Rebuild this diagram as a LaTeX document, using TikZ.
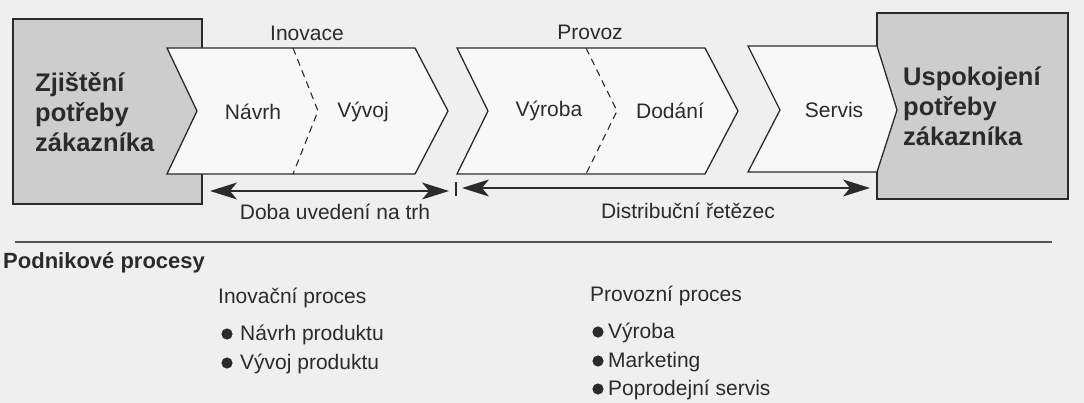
\documentclass[tikz,border=0pt]{standalone}
\usepackage{fontspec}
\setmainfont{Liberation Sans}
\definecolor{paper}{HTML}{EFEFEF}
\definecolor{boxgray}{HTML}{CDCDCD}
\definecolor{chevfill}{HTML}{F8F8F8}
\definecolor{ink}{HTML}{2B2B2B}
\tikzset{
  endbox/.style={draw=ink, line width=1.4pt, fill=boxgray},
  chevron/.style={draw=ink, line width=1.3pt, fill=chevfill, line join=miter},
  divider/.style={draw=ink, line width=1.1pt, dash pattern=on 7pt off 5pt},
  txt/.style={text=ink, inner sep=0pt, font=\fontsize{21}{25}\selectfont},
  bigbold/.style={text=ink, inner sep=0pt, align=left, font=\fontsize{25.5}{30}\selectfont\bfseries},
  dot/.style={fill=ink},
  shaft/.style={draw=ink, line width=1.3pt},
  head/.style={fill=ink},
}
\begin{document}
\begin{tikzpicture}[x=1pt,y=-1pt]
  \fill[paper] (0,0) rectangle (1084,403);
  \useasboundingbox (0,0) rectangle (1084,403);

  % end boxes
  \path[endbox] (13,19) rectangle (202,204);
  \path[endbox] (877,13) rectangle (1068,199);

  % innovation chevron
  \path[chevron] (167,48) -- (415,48) -- (448,111) -- (415,174) -- (167,174) -- (197,111) -- cycle;
  \draw[divider] (293,48) -- (318,111) -- (293,174);
  % operations chevron
  \path[chevron] (457,48) -- (705,48) -- (738,111) -- (705,174) -- (457,174) -- (488,111) -- cycle;
  \draw[divider] (586,48) -- (617,111) -- (586,174);
  % service chevron
  \path[chevron] (748,46) -- (877,46) -- (897,110) -- (877,172) -- (748,172) -- (780,110) -- cycle;

  % box texts
  \node[bigbold, anchor=west] (need) at (35,112) {Zjištění\\potřeby\\zákazníka};
  \node[bigbold, anchor=west] (met) at (903,106) {Uspokojení\\potřeby\\zákazníka};

  % chevron labels
  \node[txt] (inov) at (307,33) {Inovace};
  \node[txt] (prov) at (590,32) {Provoz};
  \node[txt] (navrh) at (253,112) {Návrh};
  \node[txt] (vyvoj) at (363,112) {Vývoj};
  \node[txt] (vyroba) at (549,111) {Výroba};
  \node[txt] (dodani) at (670,111) {Dodání};
  \node[txt] (servis) at (834,110) {Servis};

  % time spans with dart heads at both ends
  \coordinate (t0) at (210,191);
  \coordinate (t1) at (449,191);
  \coordinate (d0) at (462,188);
  \coordinate (d1) at (870,188);
  \coordinate (sepA) at (456,182);
  \coordinate (sepB) at (456,196);
  \draw[shaft] ([xshift=10pt]t0) -- ([xshift=-10pt]t1);
  \draw[shaft] ([xshift=10pt]d0) -- ([xshift=-10pt]d1);
  \fill[head] (t0) -- ++(27,-8.5) -- ++(-7,8.5) -- ++(7,8.5) -- cycle;
  \fill[head] (t1) -- ++(-27,-8.5) -- ++(7,8.5) -- ++(-7,8.5) -- cycle;
  \fill[head] (d0) -- ++(27,-8.5) -- ++(-7,8.5) -- ++(7,8.5) -- cycle;
  \fill[head] (d1) -- ++(-27,-8.5) -- ++(7,8.5) -- ++(-7,8.5) -- cycle;
  \draw[shaft] (sepA) -- (sepB);
  \node[txt] (ttm) at (335,212) {Doba uvedení na trh};
  \node[txt] (chain) at (688,211) {Distribuční řetězec};

  % separator rule
  \coordinate (r0) at (15,242);
  \coordinate (r1) at (1052,242);
  \draw[ink!80, line width=1.2pt] (r0) -- (r1);

  % business processes
  \node[txt, anchor=west, font=\fontsize{22}{26}\selectfont\bfseries] (bp) at (3,263) {Podnikové procesy};
  \node[txt, anchor=west] (ip) at (218,298) {Inovační proces};
  \node[txt, anchor=west] (ip1) at (240,335) {Návrh produktu};
  \node[txt, anchor=west] (ip2) at (240,364) {Vývoj produktu};
  \node[txt, anchor=west] (op) at (590,296) {Provozní proces};
  \node[txt, anchor=west] (op1) at (608,333) {Výroba};
  \node[txt, anchor=west] (op2) at (608,362) {Marketing};
  \node[txt, anchor=west] (op3) at (608,390) {Poprodejní servis};
  % bullets
  \fill[dot] (227,334) circle (5.6);
  \fill[dot] (227,363) circle (5.6);
  \fill[dot] (598,332) circle (5.6);
  \fill[dot] (598,361) circle (5.6);
  \fill[dot] (598,389) circle (5.6);
\end{tikzpicture}
\end{document}
